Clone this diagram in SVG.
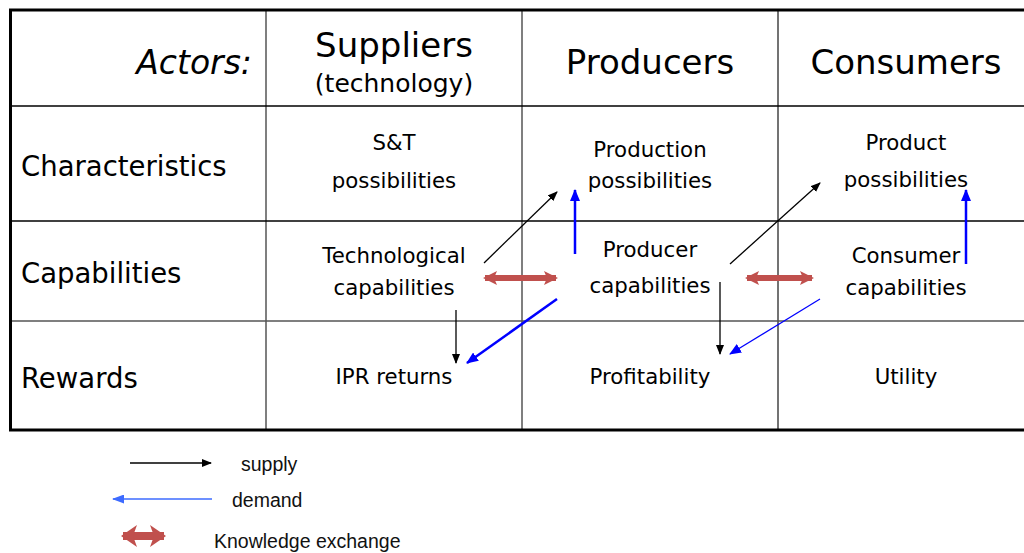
<svg xmlns="http://www.w3.org/2000/svg" width="1024" height="553" viewBox="0 0 1024 553">
<style>
.t{font-family:"DejaVu Sans",Verdana,sans-serif;fill:#000}
.h{font-size:34px;text-anchor:middle}
.r{font-size:27.5px}
.c{font-size:21.3px;text-anchor:middle}
.lg{font-family:"Liberation Sans",Arial,sans-serif;font-size:19.5px;fill:#111}
.sup{stroke:#000;stroke-width:1.3;fill:none}
.dem{stroke:#0000ff;fill:none}
.ke{stroke:#c0504d;stroke-width:6;fill:none}
</style>
<defs>
<marker id="ab" markerWidth="10" markerHeight="8" refX="9" refY="4" orient="auto" markerUnits="userSpaceOnUse"><path d="M0,0 L10,4 L0,8 Z" fill="#000"/></marker>
<marker id="au" markerWidth="12" markerHeight="10" refX="11" refY="5" orient="auto" markerUnits="userSpaceOnUse"><path d="M0,0 L12,5 L0,10 Z" fill="#0000ff"/></marker>
<marker id="al" markerWidth="12" markerHeight="9" refX="11" refY="4.5" orient="auto" markerUnits="userSpaceOnUse"><path d="M0,0 L12,4.5 L0,9 Z" fill="#3d6bff"/></marker>
<marker id="kr" markerWidth="14" markerHeight="14" refX="12" refY="7" orient="auto-start-reverse" markerUnits="userSpaceOnUse"><path d="M0,0 L14,7 L0,14 L3,7 Z" fill="#c0504d"/></marker>
<marker id="krl" markerWidth="16" markerHeight="22" refX="14" refY="11" orient="auto-start-reverse" markerUnits="userSpaceOnUse"><path d="M0,0 L16,11 L0,22 L4,11 Z" fill="#c0504d"/></marker>
</defs>
<rect width="1024" height="553" fill="#fff"/>
<g id="table">
<line x1="266" y1="10" x2="266" y2="430" stroke="#555" stroke-width="1.5"/>
<line x1="522" y1="10" x2="522" y2="430" stroke="#555" stroke-width="1.5"/>
<line x1="778" y1="10" x2="778" y2="430" stroke="#444" stroke-width="1.5"/>
<line x1="10" y1="106" x2="1024" y2="106" stroke="#000" stroke-width="1.5"/>
<line x1="10" y1="221" x2="1024" y2="221" stroke="#000" stroke-width="1.5"/>
<line x1="10" y1="321" x2="1024" y2="321" stroke="#555" stroke-width="1.5"/>
<path d="M1024,10 H10.5 V430 H1024" stroke="#000" stroke-width="3" fill="none"/>
</g>
<g id="header">
<text class="t" x="252" y="74" font-size="33" font-style="italic" text-anchor="end">Actors:</text>
<text class="t h" x="394" y="57">Suppliers</text>
<text class="t" x="394" y="92" font-size="25" text-anchor="middle">(technology)</text>
<text class="t h" x="650" y="74">Producers</text>
<text class="t h" x="906" y="74">Consumers</text>
</g>
<g id="rows">
<text class="t r" x="21" y="176">Characteristics</text>
<text class="t r" x="21" y="283">Capabilities</text>
<text class="t r" x="21" y="388">Rewards</text>
</g>
<g id="st"><text class="t c" x="394" y="150">S&amp;T</text><text class="t c" x="394" y="188">possibilities</text></g>
<g id="prodposs"><text class="t c" x="650" y="157">Production</text><text class="t c" x="650" y="188">possibilities</text></g>
<g id="productposs"><text class="t c" x="906" y="150">Product</text><text class="t c" x="906" y="187">possibilities</text></g>
<g id="techcap"><text class="t c" x="394" y="263">Technological</text><text class="t c" x="394" y="295">capabilities</text></g>
<g id="prodcap"><text class="t c" x="650" y="257">Producer</text><text class="t c" x="650" y="293">capabilities</text></g>
<g id="conscap"><text class="t c" x="906" y="263">Consumer</text><text class="t c" x="906" y="295">capabilities</text></g>
<g id="ipr"><text class="t c" x="394" y="384">IPR returns</text></g>
<g id="profit"><text class="t c" x="650" y="384">Profitability</text></g>
<g id="utility"><text class="t c" x="906" y="384">Utility</text></g>
<g id="connectors">
<line class="sup" x1="484" y1="263" x2="557" y2="192" marker-end="url(#ab)"/>
<line class="dem" stroke-width="2.5" x1="575" y1="254" x2="575" y2="190" marker-end="url(#au)"/>
<line class="sup" x1="730" y1="264" x2="820" y2="183" marker-end="url(#ab)"/>
<line class="dem" stroke-width="2.5" x1="966" y1="264" x2="966" y2="190" marker-end="url(#au)"/>
<line class="ke" x1="485" y1="278" x2="556" y2="278" marker-start="url(#kr)" marker-end="url(#kr)"/>
<line class="ke" x1="747" y1="278" x2="812" y2="278" marker-start="url(#kr)" marker-end="url(#kr)"/>
<line class="sup" x1="456" y1="310" x2="456" y2="363" marker-end="url(#ab)"/>
<line class="dem" stroke-width="2.5" x1="557" y1="299" x2="467" y2="363" marker-end="url(#au)"/>
<line class="sup" x1="720" y1="282" x2="720" y2="354" marker-end="url(#ab)"/>
<line class="dem" stroke-width="1.2" x1="820" y1="299" x2="730" y2="354" marker-end="url(#au)"/>
</g>
<g id="legend">
<line class="sup" x1="130" y1="463" x2="211" y2="463" marker-end="url(#ab)"/>
<text class="lg" x="241" y="471">supply</text>
<line stroke="#3d6bff" stroke-width="1.5" x1="212" y1="499" x2="113" y2="499" marker-end="url(#al)"/>
<text class="lg" x="232" y="507">demand</text>
<line stroke="#c0504d" stroke-width="8" x1="123" y1="536" x2="164" y2="536" marker-start="url(#krl)" marker-end="url(#krl)"/>
<text class="lg" x="214" y="548">Knowledge exchange</text>
</g>
</svg>
